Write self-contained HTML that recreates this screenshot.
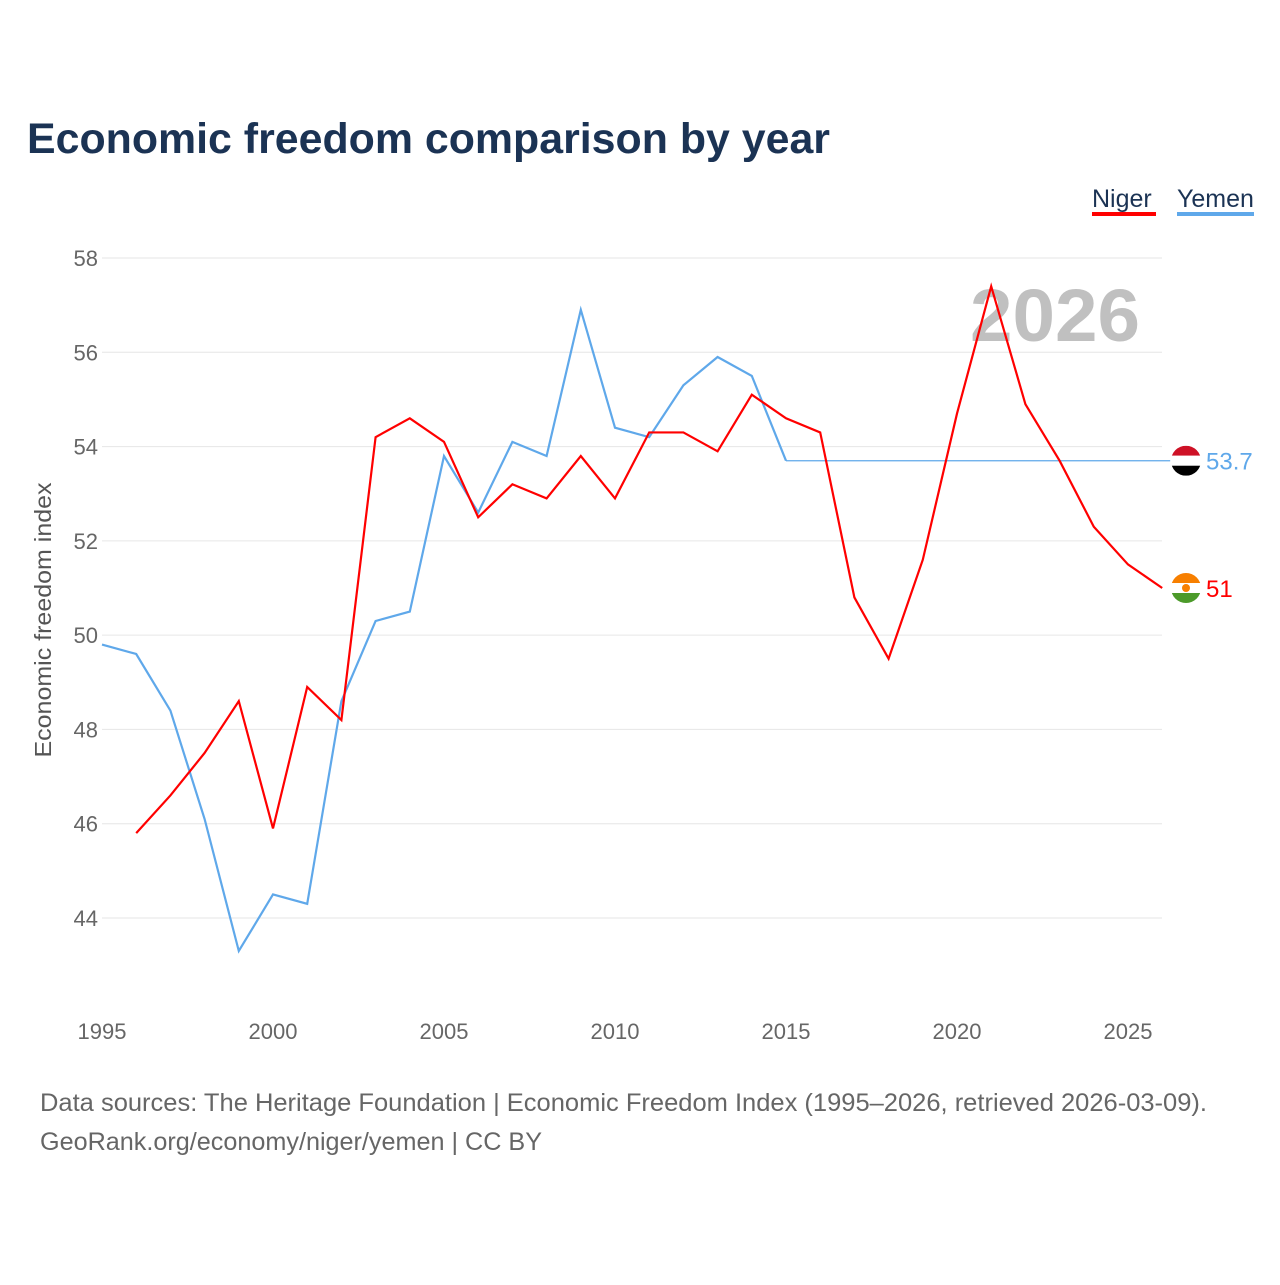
<!DOCTYPE html>
<html><head><meta charset="utf-8"><style>
body{margin:0;background:#fff;width:1280px;height:1280px;overflow:hidden;font-family:"Liberation Sans",sans-serif}
</style></head><body>
<svg width="1280" height="1280" font-family="Liberation Sans, sans-serif">
<text x="27" y="153" font-size="43" font-weight="bold" fill="#1b3354" textLength="803" lengthAdjust="spacingAndGlyphs">Economic freedom comparison by year</text>
<g>
<text x="1092" y="207" font-size="25" fill="#1b3354">Niger</text>
<rect x="1092" y="212" width="64" height="4" fill="#ff0000"/>
<text x="1177" y="207" font-size="25" fill="#1b3354">Yemen</text>
<rect x="1177" y="212" width="77" height="4" fill="#5fa8ea"/>
</g>
<g id="grid"></g>
<text x="1140" y="341" font-size="74" font-weight="bold" fill="#c0c0c0" text-anchor="end" textLength="170" lengthAdjust="spacingAndGlyphs">2026</text>
<text transform="translate(51,620) rotate(-90)" font-size="23" fill="#555" text-anchor="middle" textLength="275" lengthAdjust="spacingAndGlyphs">Economic freedom index</text>
<g id="marks"></g>
<text x="40" y="1111" font-size="25" fill="#666" textLength="1167" lengthAdjust="spacingAndGlyphs">Data sources: The Heritage Foundation | Economic Freedom Index (1995–2026, retrieved 2026-03-09).</text>
<text x="40" y="1150" font-size="25" fill="#666" textLength="502" lengthAdjust="spacingAndGlyphs">GeoRank.org/economy/niger/yemen | CC BY</text>
</svg>
<script>
const years=[1995,1996,1997,1998,1999,2000,2001,2002,2003,2004,2005,2006,2007,2008,2009,2010,2011,2012,2013,2014,2015,2016,2017,2018,2019,2020,2021,2022,2023,2024,2025,2026];
const yemen=[49.8,49.6,48.4,46.1,43.3,44.5,44.3,48.6,50.3,50.5,53.8,52.6,54.1,53.8,56.9,54.4,54.2,55.3,55.9,55.5,53.7];
const yemenLast=53.7;
const niger=[null,45.8,46.6,47.5,48.6,45.9,48.9,48.2,54.2,54.6,54.1,52.5,53.2,52.9,53.8,52.9,54.3,54.3,53.9,55.1,54.6,54.3,50.8,49.5,51.6,54.7,57.4,54.9,53.7,52.3,51.5,51.0];
const yTicks=[44,46,48,50,52,54,56,58];
const xTicks=[1995,2000,2005,2010,2015,2020,2025];
const X=y=>102+(y-1995)*34.2;
const Y=v=>918-(v-44)*47.143;
const NS="http://www.w3.org/2000/svg";
function mk(tag,attrs,parent){const e=document.createElementNS(NS,tag);for(const k in attrs)e.setAttribute(k,attrs[k]);parent.appendChild(e);return e;}
const g=document.getElementById('grid'),m=document.getElementById('marks');
yTicks.forEach(t=>{
 const l=mk('line',{x1:102,x2:1162,y1:Y(t),y2:Y(t),stroke:'#e6e6e6','stroke-width':1},g);
 
 
 const tx=mk('text',{x:98,y:Y(t)+8,'font-size':22,fill:'#666','text-anchor':'end'},g);tx.textContent=t;
 
 
});
xTicks.forEach(t=>{
 const tx=mk('text',{x:X(t),y:1039,'font-size':22,fill:'#666','text-anchor':'middle'},g);tx.textContent=t;
 
 
});
let yp=yemen.map((v,i)=>X(years[i])+','+Y(v)).join(' ');
const yl=mk('polyline',{points:yp,fill:'none',stroke:'#5fa8ea','stroke-width':2.2},m);


const yf=mk('line',{x1:X(years[yemen.length-1]),y1:Y(yemen[yemen.length-1]),x2:X(2026)+8,y2:Y(yemenLast),stroke:'#5fa8ea','stroke-width':1.2},m);


let np=[];niger.forEach((v,i)=>{if(v!=null)np.push(X(years[i])+','+Y(v));});
const nl=mk('polyline',{points:np.join(' '),fill:'none',stroke:'#ff0000','stroke-width':2.2},m);


const fx=1186;
const yy=Y(yemenLast);
const fy=mk('g',{},m);


mk('clipPath',{id:'cy'},fy).appendChild(document.createElementNS(NS,'circle'));
const c1=document.querySelector('#cy circle');c1.setAttribute('cx',fx);c1.setAttribute('cy',yy);c1.setAttribute('r',15);
mk('rect',{x:fx-15,y:yy-15,width:30,height:10,fill:'#ce1126','clip-path':'url(#cy)'},fy);
mk('rect',{x:fx-15,y:yy-5,width:30,height:10,fill:'#fff','clip-path':'url(#cy)'},fy);
mk('rect',{x:fx-15,y:yy+5,width:30,height:10,fill:'#000','clip-path':'url(#cy)'},fy);
const ny=Y(niger[niger.length-1]);
const fn=mk('g',{},m);


mk('clipPath',{id:'cn'},fn).appendChild(document.createElementNS(NS,'circle'));
const c2=document.querySelector('#cn circle');c2.setAttribute('cx',fx);c2.setAttribute('cy',ny);c2.setAttribute('r',15);
mk('rect',{x:fx-15,y:ny-15,width:30,height:10,fill:'#f77f00','clip-path':'url(#cn)'},fn);
mk('rect',{x:fx-15,y:ny-5,width:30,height:10,fill:'#fff','clip-path':'url(#cn)'},fn);
mk('rect',{x:fx-15,y:ny+5,width:30,height:10,fill:'#4c9a2a','clip-path':'url(#cn)'},fn);
mk('circle',{cx:fx,cy:ny,r:4,fill:'#f77f00'},fn);
const ty=mk('text',{x:1206,y:yy+9,'font-size':24,fill:'#5fa8ea'},m);ty.textContent=yemenLast;


const tn=mk('text',{x:1206,y:ny+9,'font-size':24,fill:'#ff0000'},m);tn.textContent=niger[niger.length-1];


</script>
</body></html>
